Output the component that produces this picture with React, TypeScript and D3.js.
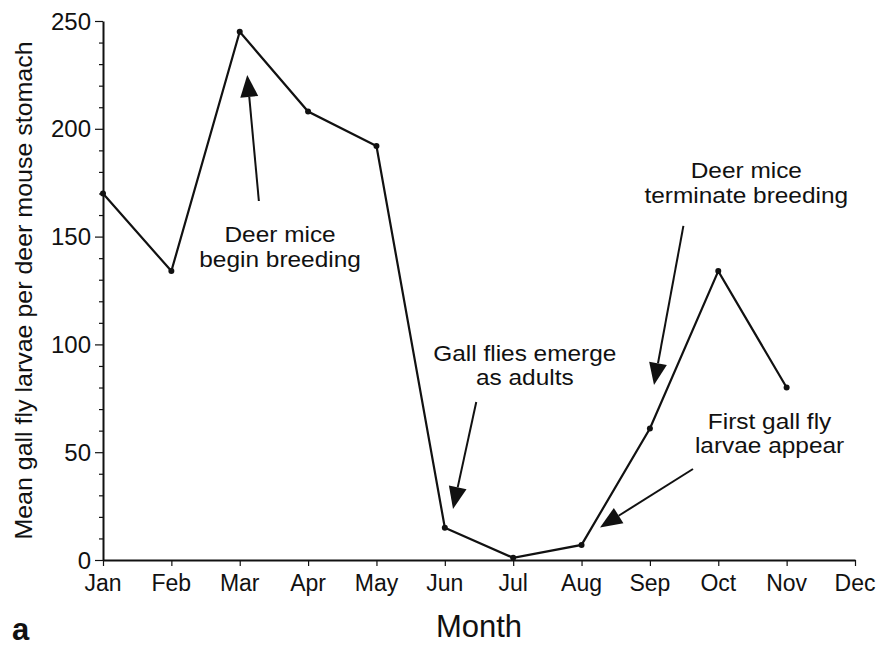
import React, { useEffect, useRef } from "react";
import * as d3 from "d3";

const months = ["Jan", "Feb", "Mar", "Apr", "May", "Jun", "Jul", "Aug", "Sep", "Oct", "Nov", "Dec"];
// mean larvae per stomach, Jan..Nov (no Dec sample)
const larvae = [170, 134, 245, 208, 192, 15, 1, 7, 61, 134, 80];
const yTicks = [0, 50, 100, 150, 200, 250];

// annotation text + arrow, positions in data units (month index, value)
const notes = [
  { lines: ["Deer mice", "begin breeding"], x: 2.59, y: [147.5, 136], from: [2.28, 166.5], to: [2.11, 225] },
  { lines: ["Gall flies emerge", "as adults"], x: 6.17, y: [92.3, 81.2], from: [5.46, 73.3], to: [5.12, 23.7] },
  { lines: ["Deer mice", "terminate breeding"], x: 9.41, y: [177.2, 165.6], from: [8.49, 155], to: [8.06, 81.2] },
  { lines: ["First gall fly", "larvae appear"], x: 9.75, y: [60.8, 49.6], from: [8.63, 42.2], to: [7.27, 15.1] },
];

const W = 880;
const H = 647;
const FONT = "'Liberation Sans', Arial, Helvetica, sans-serif";

export default function App() {
  const svgRef = useRef<SVGSVGElement | null>(null);

  useEffect(() => {
    document.body.style.margin = "0";
    if (!svgRef.current) return;
    const svg = d3.select(svgRef.current);
    svg.selectAll("*").remove();

    const x = d3.scaleLinear().domain([0, 11]).range([103, 855]);
    const y = d3.scaleLinear().domain([0, 250]).range([560, 21]);

    const g = svg.append("g").style("font-family", FONT).attr("fill", "#111");

    // y axis with minor ticks every 10
    const yAxis = d3
      .axisLeft(y)
      .tickValues(d3.range(0, 251, 10))
      .tickSize(4)
      .tickSizeOuter(0)
      .tickFormat(() => "");
    const ya = g.append("g").attr("transform", `translate(${x(0)},0)`).call(yAxis as any);
    ya.selectAll("line").attr("stroke", "#111").attr("stroke-width", 1.2);
    ya.selectAll("path").attr("stroke", "#111").attr("stroke-width", 2);
    ya.selectAll("line")
      .filter((d: any) => d % 50 === 0)
      .attr("x2", -8);

    g.selectAll(".ylab")
      .data(yTicks)
      .join("text")
      .attr("class", "ylab")
      .attr("x", x(0) - 12)
      .attr("y", d => y(d))
      .attr("dy", "0.36em")
      .attr("text-anchor", "end")
      .attr("font-size", 24)
      .text(d => d);

    // x axis
    const xa = g
      .append("g")
      .attr("transform", `translate(0,${y(0)})`)
      .call(d3.axisBottom(x).tickValues(d3.range(0, 12)).tickSize(6).tickSizeOuter(0).tickFormat(() => "") as any);
    xa.selectAll("line").attr("stroke", "#111").attr("stroke-width", 1.2);
    xa.selectAll("path").attr("stroke", "#111").attr("stroke-width", 2);

    g.selectAll(".xlab")
      .data(months)
      .join("text")
      .attr("class", "xlab")
      .attr("x", (_, i) => x(i))
      .attr("y", 591)
      .attr("text-anchor", "middle")
      .attr("font-size", 23)
      .text(d => d);

    // axis titles
    g.append("text")
      .attr("transform", `translate(32,290.5) rotate(-90) scale(1.086,1)`)
      .attr("text-anchor", "middle")
      .attr("font-size", 23)
      .text("Mean gall fly larvae per deer mouse stomach");

    g.append("text")
      .attr("x", 479)
      .attr("y", 637)
      .attr("text-anchor", "middle")
      .attr("font-size", 31)
      .text("Month");

    g.append("text")
      .attr("x", 12)
      .attr("y", 640)
      .attr("font-size", 31)
      .attr("font-weight", "bold")
      .text("a");

    // data line
    const line = d3
      .line<number>()
      .x((_, i) => x(i))
      .y(d => y(d));
    g.append("path")
      .datum(larvae)
      .attr("d", line)
      .attr("fill", "none")
      .attr("stroke", "#111")
      .attr("stroke-width", 2.2)
      .attr("stroke-linejoin", "miter");

    g.selectAll(".pt")
      .data(larvae)
      .join("circle")
      .attr("class", "pt")
      .attr("cx", (_, i) => x(i))
      .attr("cy", d => y(d))
      .attr("r", 3)
      .attr("fill", "#111");

    // annotations
    notes.forEach(n => {
      n.lines.forEach((t, i) => {
        g.append("text")
          .attr("transform", `translate(${x(n.x)},${y(n.y[i])}) scale(1.11,1)`)
          .attr("text-anchor", "middle")
          .attr("font-size", 22)
          .text(t);
      });
      const x1 = x(n.from[0]);
      const y1 = y(n.from[1]);
      const x2 = x(n.to[0]);
      const y2 = y(n.to[1]);
      const ang = Math.atan2(y2 - y1, x2 - x1);
      const len = 22;
      const hw = 9;
      const bx = x2 - len * Math.cos(ang);
      const by = y2 - len * Math.sin(ang);
      g.append("line")
        .attr("x1", x1)
        .attr("y1", y1)
        .attr("x2", bx)
        .attr("y2", by)
        .attr("stroke", "#111")
        .attr("stroke-width", 2);
      const px = -Math.sin(ang) * hw;
      const py = Math.cos(ang) * hw;
      g.append("polygon")
        .attr("points", `${x2},${y2} ${bx + px},${by + py} ${bx - px},${by - py}`)
        .attr("fill", "#111");
    });
  }, []);

  return <svg ref={svgRef} width={W} height={H} style={{ display: "block", background: "#fff" }} />;
}
